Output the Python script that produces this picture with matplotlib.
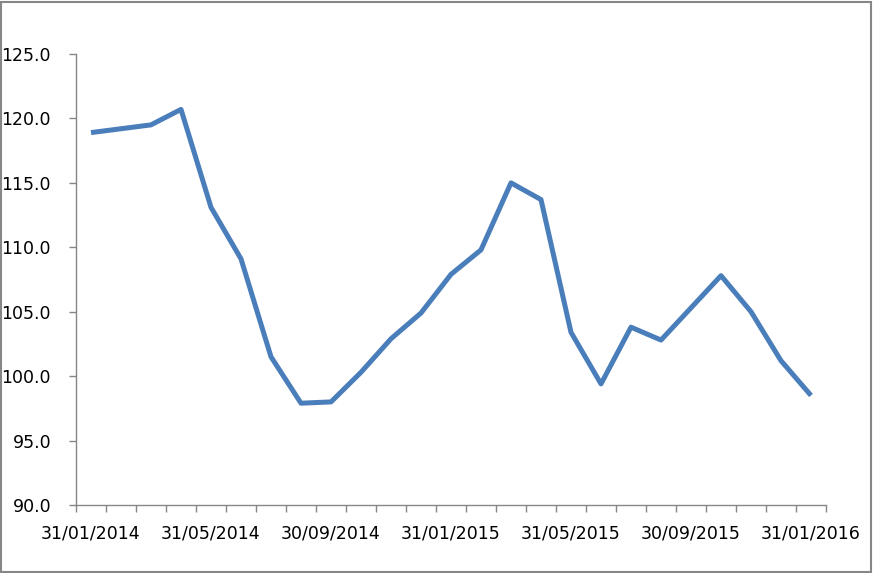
import matplotlib
matplotlib.use("Agg")
import matplotlib.pyplot as plt
from matplotlib.patches import Rectangle

# --- data ---
dates = ["31/01/2014", "28/02/2014", "31/03/2014", "30/04/2014", "31/05/2014",
         "30/06/2014", "31/07/2014", "31/08/2014", "30/09/2014", "31/10/2014",
         "30/11/2014", "31/12/2014", "31/01/2015", "28/02/2015", "31/03/2015",
         "30/04/2015", "31/05/2015", "30/06/2015", "31/07/2015", "31/08/2015",
         "30/09/2015", "31/10/2015", "30/11/2015", "31/12/2015", "31/01/2016"]
values = [118.9, 119.2, 119.5, 120.7, 113.1, 109.1, 101.5, 97.9, 98.0, 100.3,
          102.9, 104.9, 107.9, 109.8, 115.0, 113.7, 103.4, 99.4, 103.8, 102.8,
          105.3, 107.8, 105.0, 101.2, 98.5]
yticks = [90, 95, 100, 105, 110, 115, 120, 125]

LINE = "#4a7ebb"
AXIS = "#868686"

plt.rcParams["font.family"] = ["DejaVu Sans"]
fig = plt.figure(figsize=(8.73, 5.73), dpi=100)
W, H = 873, 573
ax = fig.add_axes([76 / W, (H - 505) / H, (826 - 76) / W, (505 - 54) / H])

x = list(range(len(values)))
ax.plot(x, values, color=LINE, lw=3.6, solid_joinstyle="round",
        solid_capstyle="butt", zorder=3)

ax.set_xlim(-0.5, len(values) - 0.5)
ax.set_ylim(90, 125)
ax.set_yticks(yticks)
ax.set_yticklabels([f"{v:.1f}" for v in yticks], fontsize=12.5, color="#000000")
ax.tick_params(axis="y", length=5, width=1, color=AXIS, pad=13)

# labels every 4 months, centred on the category; tick marks on boundaries
ax.set_xticks(x[::4])
ax.set_xticklabels(dates[::4], fontsize=12.5, color="#000000")
ax.set_xticks([i - 0.5 for i in range(len(values) + 1)], minor=True)
ax.tick_params(axis="x", which="major", length=0, pad=14)
ax.tick_params(axis="x", which="minor", length=5, width=1, color=AXIS)

for s in ("top", "right"):
    ax.spines[s].set_visible(False)
for s in ("left", "bottom"):
    ax.spines[s].set_color(AXIS)
    ax.spines[s].set_linewidth(1)

# chart-area border
fig.patches.append(Rectangle((1 / W, 1 / H), 1 - 3 / W, 1 - 3 / H,
                             transform=fig.transFigure, fill=False,
                             edgecolor=AXIS, lw=1.5))

fig.savefig("out.png", dpi=100, facecolor="white")
